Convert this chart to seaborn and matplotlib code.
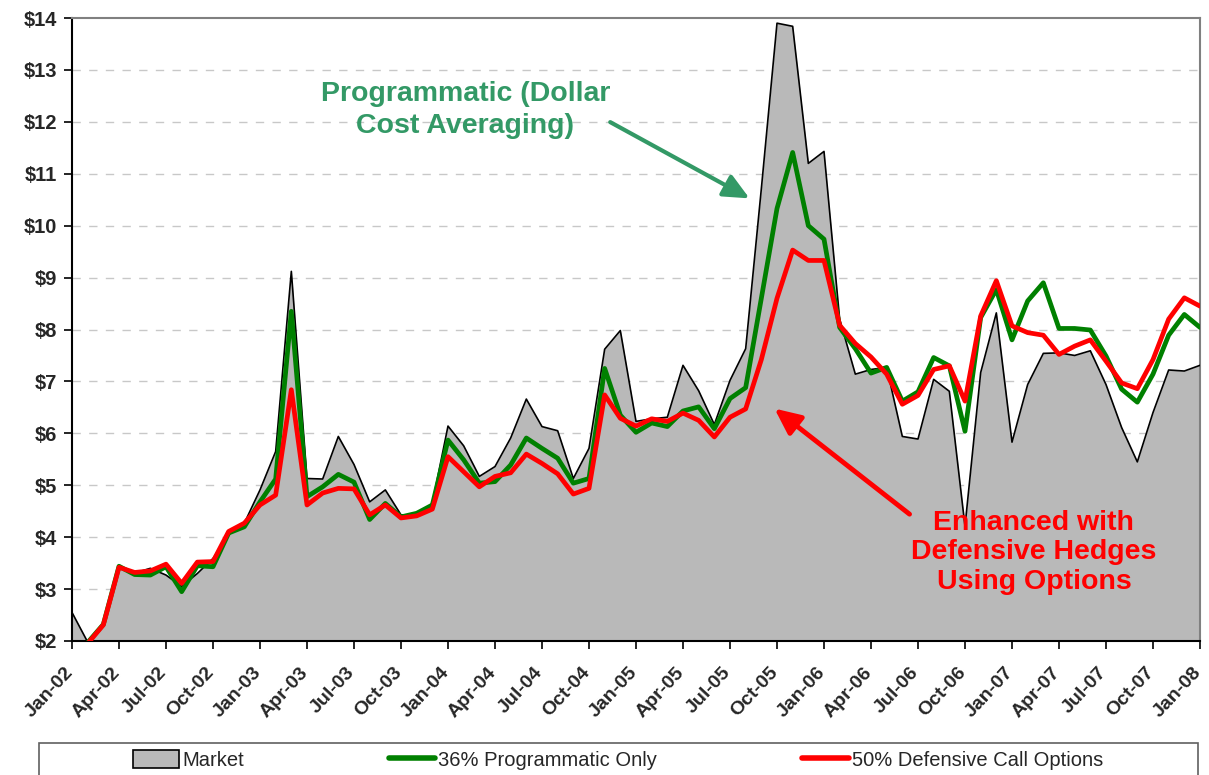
import numpy as np
import pandas as pd
import matplotlib
matplotlib.use("Agg")
import matplotlib.pyplot as plt
import matplotlib.transforms as mtransforms
from matplotlib import font_manager
from matplotlib.patches import Rectangle, Patch
from matplotlib.lines import Line2D
import seaborn as sns

# ---------------- data ----------------
tick_labels = ["Jan-02", "Apr-02", "Jul-02", "Oct-02", "Jan-03", "Apr-03", "Jul-03", "Oct-03",
               "Jan-04", "Apr-04", "Jul-04", "Oct-04", "Jan-05", "Apr-05", "Jul-05", "Oct-05",
               "Jan-06", "Apr-06", "Jul-06", "Oct-06", "Jan-07", "Apr-07", "Jul-07", "Oct-07",
               "Jan-08"]

market = [2.55, 1.98, 2.34, 3.45, 3.31, 3.40, 3.27, 3.05, 3.30, 3.59, 4.05, 4.27,
          4.91, 5.65, 9.12, 5.13, 5.12, 5.94, 5.40, 4.68, 4.91, 4.43, 4.43, 4.65,
          6.14, 5.76, 5.17, 5.36, 5.91, 6.66, 6.13, 6.05, 5.13, 5.71, 7.62, 7.98,
          6.23, 6.28, 6.31, 7.31, 6.82, 6.17, 7.02, 7.63, 10.71, 13.90, 13.84, 11.20,
          11.43, 8.20, 7.14, 7.23, 7.27, 5.94, 5.89, 7.04, 6.81, 4.21, 7.17, 8.32,
          5.83, 6.94, 7.54, 7.55, 7.50, 7.59, 6.94, 6.11, 5.45, 6.40, 7.22, 7.20,
          7.31]

programmatic = [np.nan, 1.97, 2.32, 3.44, 3.28, 3.27, 3.43, 2.95, 3.45, 3.43, 4.08, 4.20,
                4.68, 5.12, 8.35, 4.78, 4.97, 5.21, 5.06, 4.34, 4.65, 4.39, 4.46, 4.62,
                5.87, 5.49, 5.04, 5.07, 5.39, 5.91, 5.71, 5.52, 5.04, 5.13, 7.25, 6.35,
                6.02, 6.20, 6.13, 6.43, 6.51, 6.09, 6.67, 6.88, 8.60, 10.33, 11.41, 10.00,
                9.74, 8.04, 7.63, 7.16, 7.27, 6.62, 6.80, 7.46, 7.30, 6.04, 8.23, 8.77,
                7.80, 8.55, 8.90, 8.02, 8.02, 7.99, 7.49, 6.85, 6.60, 7.14, 7.89, 8.29,
                8.04]

defensive = [np.nan, 1.95, 2.31, 3.42, 3.32, 3.35, 3.48, 3.11, 3.52, 3.53, 4.11, 4.27,
             4.62, 4.81, 6.84, 4.62, 4.85, 4.94, 4.93, 4.43, 4.62, 4.37, 4.41, 4.54,
             5.55, 5.26, 4.97, 5.17, 5.24, 5.60, 5.42, 5.22, 4.83, 4.94, 6.74, 6.29,
             6.14, 6.28, 6.23, 6.39, 6.25, 5.93, 6.31, 6.47, 7.42, 8.60, 9.53, 9.33,
             9.33, 8.08, 7.73, 7.47, 7.14, 6.56, 6.73, 7.23, 7.30, 6.62, 8.26, 8.94,
             8.07, 7.94, 7.89, 7.52, 7.68, 7.80, 7.39, 6.97, 6.86, 7.42, 8.20, 8.61,
             8.45]

series_names = ["Market", "36% Programmatic Only", "50% Defensive Call Options"]

months = np.arange(len(market))
df = pd.DataFrame({"month": months, "market": market,
                   "programmatic": programmatic, "defensive": defensive})

# ---------------- style ----------------
sns.set_theme(style="white")
plt.rcParams["font.family"] = ["Liberation Sans", "DejaVu Sans"]

GREEN = "#008000"
RED = "#ff0000"
FILL = "#b9b9b9"
NOTE_GREEN = "#339966"

fig = plt.figure(figsize=(12.09, 7.75), dpi=100)
ax = fig.add_axes([72 / 1209, 1 - 641 / 775, (1200 - 72) / 1209, (641 - 18) / 775])

# market area
ax.fill_between(df["month"], df["market"], 0, color=FILL, zorder=2, linewidth=0)
sns.lineplot(data=df, x="month", y="market", ax=ax, color="black", linewidth=1.2, zorder=3)
sns.lineplot(data=df, x="month", y="programmatic", ax=ax, color=GREEN, linewidth=3.4, zorder=4)
sns.lineplot(data=df, x="month", y="defensive", ax=ax, color=RED, linewidth=3.4, zorder=5)

ax.set_xlim(0, len(market) - 1)
ax.set_ylim(2, 14)
ax.set_xlabel("")
ax.set_ylabel("")

# grid
ax.set_axisbelow(True)
for v in range(3, 14):
    ax.axhline(v, color="#c8c8c8", linewidth=1.0, linestyle=(0, (6, 6)), zorder=1)

# ticks
ax.set_xticks(np.arange(0, len(market), 3))
ax.set_xticklabels(tick_labels, rotation=47, ha="right", rotation_mode="anchor",
                   fontsize=14, fontweight="bold")
ax.set_yticks(range(2, 15))
ax.set_yticklabels([f"${v}" for v in range(2, 15)], fontsize=14.5, fontweight="bold")
ax.tick_params(axis="both", which="major", direction="out", length=6, width=1.2,
               color="black", bottom=True, left=True)
ax.tick_params(axis="x", pad=5)
ax.tick_params(axis="y", pad=5)
shift = mtransforms.ScaledTranslation(-8 / 100, -8 / 100, fig.dpi_scale_trans)
for lbl in ax.get_xticklabels():
    lbl.set_transform(lbl.get_transform() + shift)

for side in ["left", "bottom"]:
    ax.spines[side].set_color("black")
    ax.spines[side].set_linewidth(1.5)
for side in ["top", "right"]:
    ax.spines[side].set_color("#808080")
    ax.spines[side].set_linewidth(1.5)

# annotations
ax.annotate("", xy=(43.4, 10.5), xytext=(34.2, 12.02),
            arrowprops=dict(arrowstyle="-|>,head_length=1.3,head_width=0.6",
                            color=NOTE_GREEN, lw=3), zorder=6)
ax.text(25.1, 12.23, "Programmatic (Dollar\nCost Averaging)", color=NOTE_GREEN,
        fontsize=20.5, fontweight="bold", ha="center", va="center",
        linespacing=1.3, zorder=6)

ax.annotate("", xy=(44.7, 6.51), xytext=(53.6, 4.41),
            arrowprops=dict(arrowstyle="-|>,head_length=1.3,head_width=0.6",
                            color=RED, lw=3.5), zorder=6)
ax.text(61.4, 3.71, "Enhanced with\nDefensive Hedges\nUsing Options", color=RED,
        fontsize=20.5, fontweight="bold", ha="center", va="center",
        linespacing=1.18, zorder=6)

# legend box
fig.patches.append(Rectangle((39 / 1209, -0.02), (1198 - 39) / 1209, (775 - 743) / 775 + 0.02,
                             transform=fig.transFigure, facecolor="white",
                             edgecolor="#606060", linewidth=1.2))
handles = [Patch(facecolor=FILL, edgecolor="black", linewidth=1.2),
           Line2D([0], [0], color=GREEN, linewidth=4),
           Line2D([0], [0], color=RED, linewidth=4)]
fig.legend(handles, series_names, loc="center", bbox_to_anchor=(618 / 1209, 1 - 760 / 775),
           ncol=3, frameon=False, prop={"size": 14.5},
           handlelength=2.3, handleheight=1.0,
           handletextpad=0.15, columnspacing=7.2, borderaxespad=0)

fig.savefig("out.png", dpi=100)
